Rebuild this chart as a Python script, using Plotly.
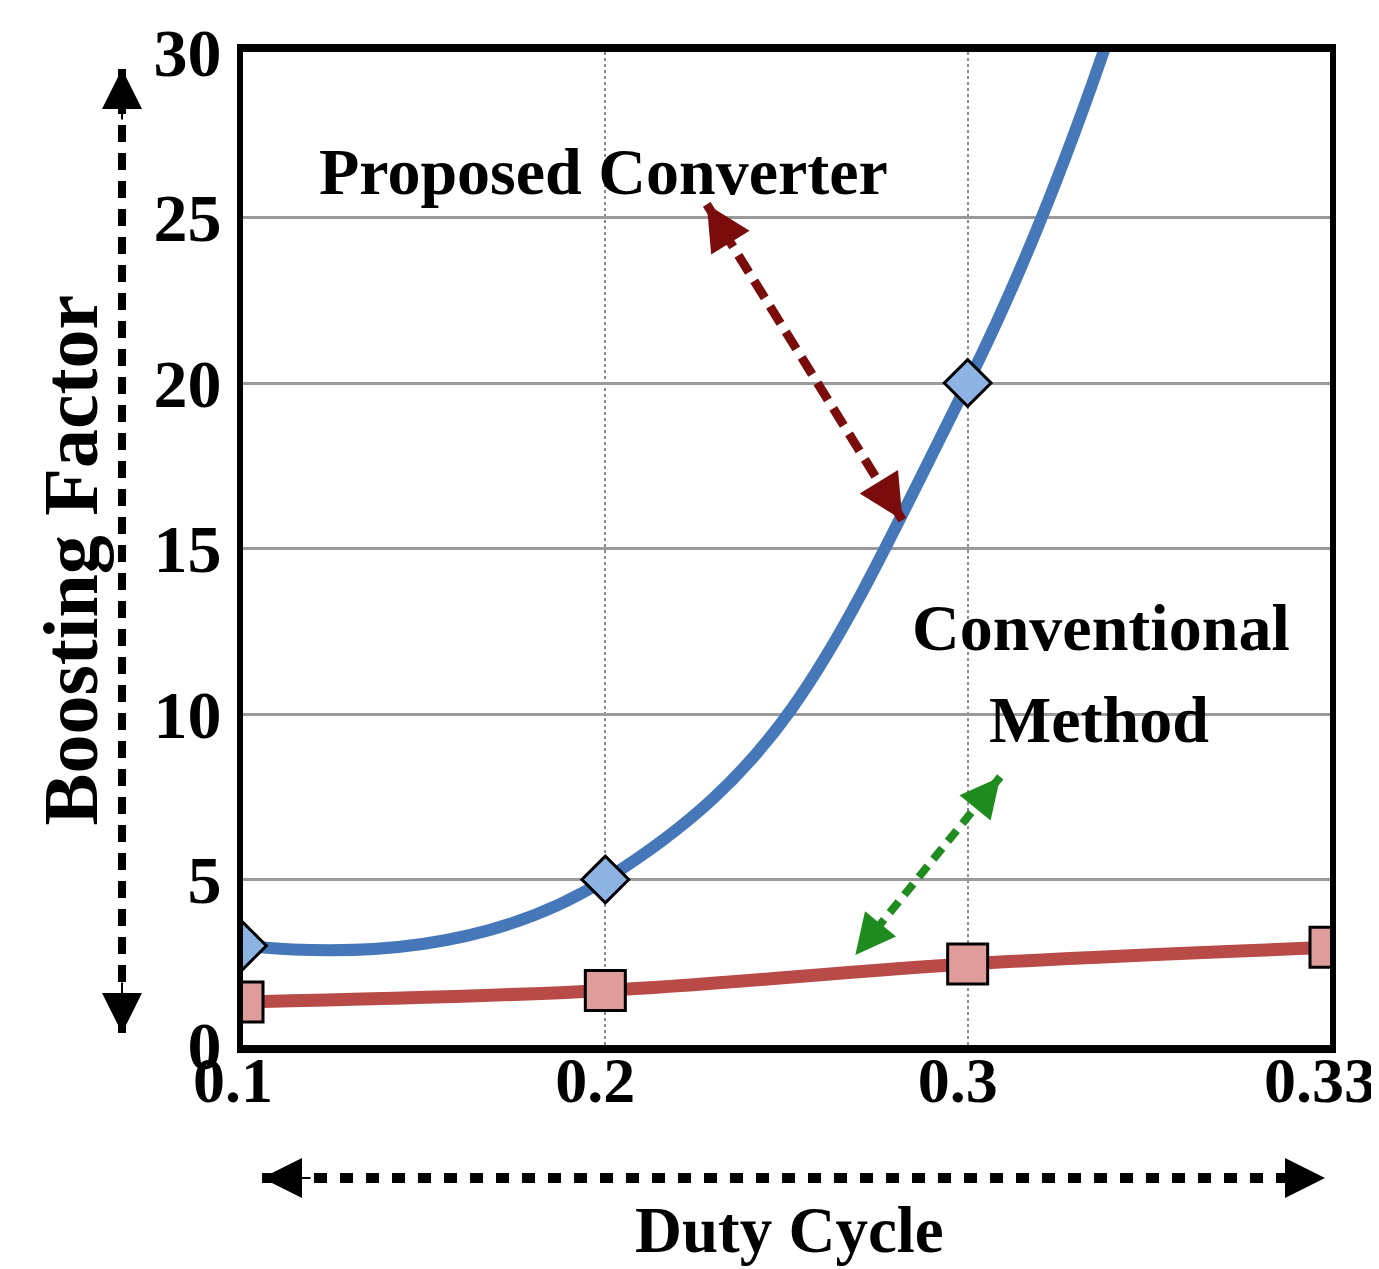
import plotly.graph_objects as go

# ---------------- data ----------------
duty_labels = ["0.1", "0.2", "0.3", "0.33"]
proposed = [3.0, 5.0, 20.0, 56.0]
conventional = [1.3, 1.65, 2.45, 2.95]
y_ticks = [0, 5, 10, 15, 20, 25, 30]

x_pos = list(range(len(duty_labels)))

SERIF = "Liberation Serif"
BIG = dict(family=SERIF, size=66, color="black", weight="bold")

fig = go.Figure()

fig.add_trace(go.Scatter(
    x=x_pos, y=conventional, mode="lines+markers",
    line=dict(color="#B84A48", width=13, shape="spline", smoothing=1),
    marker=dict(symbol="square", size=40, color="#DE9C9A",
                line=dict(color="black", width=3)),
    cliponaxis=True, showlegend=False, hoverinfo="skip",
))
fig.add_trace(go.Scatter(
    x=x_pos, y=proposed, mode="lines+markers",
    line=dict(color="#4677B9", width=12, shape="spline", smoothing=1.3),
    marker=dict(symbol="diamond", size=36, color="#8DB3E2",
                line=dict(color="black", width=3)),
    cliponaxis=True, showlegend=False, hoverinfo="skip",
))

shapes = []
annotations = []


def dashed_double_arrow(p1, p2, off1, off2, color, width, dash, ref, head_scale):
    xref, yref = ref
    shapes.append(dict(type="line", xref=xref, yref=yref,
                       x0=p1[0], y0=p1[1], x1=p2[0], y1=p2[1],
                       line=dict(color=color, width=width, dash=dash),
                       layer="above"))
    for tip, off in ((p1, off1), (p2, off2)):
        annotations.append(dict(
            x=tip[0], y=tip[1], xref=xref, yref=yref, text="",
            showarrow=True, ax=off[0], ay=off[1],
            arrowhead=2, arrowwidth=2, arrowsize=head_scale / 2.0,
            arrowcolor=color, standoff=0,
        ))


# Proposed converter arrow (dark red)
dashed_double_arrow((1.28, 25.4), (1.82, 15.86), (24, 39), (-24, -39),
                    "#7A0C0C", 9, "20px,10px", ("x", "y"), 9)
# Conventional method arrow (green)
dashed_double_arrow((2.09, 8.1), (1.69, 2.72), (-26, 32), (26, -32),
                    "#1E8C1E", 8, "14px,9px", ("x", "y"), 8)
# Y axis arrow
dashed_double_arrow((-0.1113, 0.983), (-0.1113, 0.012), (0, 52), (0, -52),
                    "black", 8, "17px,11px", ("paper", "paper"), 8)
# X axis arrow
dashed_double_arrow((0.0175, -0.134), (0.9954, -0.134), (50, 0), (-50, 0),
                    "black", 10, "13px,13px", ("paper", "paper"), 8)

# Text labels
annotations += [
    dict(x=0.996, y=26.4, xref="x", yref="y", text="Proposed Converter",
         showarrow=False, font=BIG, xanchor="center", yanchor="middle"),
    dict(x=2.368, y=12.6, xref="x", yref="y", text="Conventional",
         showarrow=False, font=BIG, xanchor="center", yanchor="middle"),
    dict(x=2.363, y=9.82, xref="x", yref="y", text="Method",
         showarrow=False, font=BIG, xanchor="center", yanchor="middle"),
    dict(x=-0.159, y=0.488, xref="paper", yref="paper", text="Boosting Factor",
         showarrow=False, textangle=-90,
         font=dict(family=SERIF, size=78, color="black", weight="bold"),
         xanchor="center", yanchor="middle"),
    dict(x=0.503, y=-0.186, xref="paper", yref="paper", text="Duty Cycle",
         showarrow=False,
         font=dict(family=SERIF, size=65, color="black", weight="bold"),
         xanchor="center", yanchor="middle"),
]

xtickfont = dict(family=SERIF, size=64, color="black", weight="bold")
ytickfont = dict(family=SERIF, size=68, color="black", weight="bold")

fig.update_layout(
    width=1371, height=1261,
    margin=dict(l=235, r=49, t=44, b=224),
    paper_bgcolor="white", plot_bgcolor="white",
    showlegend=False,
    shapes=shapes, annotations=annotations,
    xaxis=dict(
        range=[0, 3], tickvals=x_pos, ticktext=duty_labels,
        showgrid=True, gridcolor="#8C8C8C", gridwidth=1.5, griddash="dot",
        showline=True, linecolor="black", linewidth=8, mirror=True,
        ticks="", zeroline=False, tickfont=xtickfont, ticklabelstandoff=-28,
        ticklabelshift=-10, ticklabeloverflow="allow", automargin=False,
    ),
    yaxis=dict(
        range=[0, 30], tickvals=y_ticks,
        showgrid=True, gridcolor="#9A9A9A", gridwidth=2.5,
        showline=True, linecolor="black", linewidth=6, mirror=True,
        ticks="", zeroline=False, tickfont=ytickfont, ticklabelstandoff=2,
        automargin=False,
    ),
)

fig.write_html("out.html")
